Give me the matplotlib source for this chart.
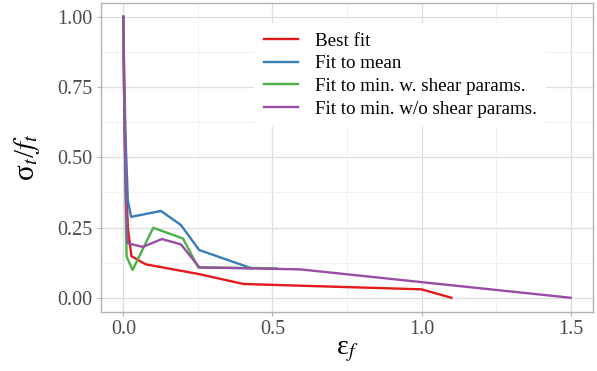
import matplotlib
matplotlib.use('Agg')
import matplotlib.pyplot as plt
from matplotlib.ticker import MultipleLocator, FormatStrFormatter

# ---- data ----
labels = ['Best fit', 'Fit to mean', 'Fit to min. w. shear params.', 'Fit to min. w/o shear params.']
colors = ['#E41A1C', '#377EB8', '#4DAF4A', '#984EA3']

best_x = [0, 0.002, 0.008, 0.015, 0.027, 0.075, 0.25, 0.403, 1.0, 1.1]
best_y = [1.0, 0.75, 0.45, 0.25, 0.148, 0.119, 0.085, 0.049, 0.03, 0.0]

mean_x = [0, 0.003, 0.008, 0.015, 0.026, 0.126, 0.193, 0.254, 0.43]
mean_y = [1.0, 0.78, 0.55, 0.347, 0.288, 0.309, 0.259, 0.17, 0.105]

minw_x = [0, 0.004, 0.009, 0.011, 0.031, 0.1, 0.2, 0.251, 0.513]
minw_y = [1.0, 0.6, 0.229, 0.146, 0.099, 0.249, 0.211, 0.108, 0.105]

mino_x = [0, 0.004, 0.01, 0.015, 0.065, 0.129, 0.193, 0.255, 0.593, 1.5]
mino_y = [1.0, 0.6, 0.3, 0.194, 0.181, 0.209, 0.19, 0.108, 0.101, 0.0]

series = [(best_x, best_y), (mean_x, mean_y), (minw_x, minw_y), (mino_x, mino_y)]

plt.rcParams['font.family'] = 'Liberation Serif'
plt.rcParams['mathtext.fontset'] = 'stix'

fig = plt.figure(figsize=(5.97, 3.71), dpi=100)
ax = fig.add_axes([101/597, 1 - 311.8/371, 492/597, 309/371])

for (xs, ys), lab, col in zip(series, labels, colors):
    ax.plot(xs, ys, color=col, lw=1.7, label=lab, solid_joinstyle='round')

ax.set_xlim(-0.075, 1.575)
ax.set_ylim(-0.05, 1.05)
ax.xaxis.set_major_locator(MultipleLocator(0.5))
ax.xaxis.set_minor_locator(MultipleLocator(0.25))
ax.yaxis.set_major_locator(MultipleLocator(0.25))
ax.yaxis.set_minor_locator(MultipleLocator(0.125))
ax.xaxis.set_major_formatter(FormatStrFormatter('%.1f'))
ax.yaxis.set_major_formatter(FormatStrFormatter('%.2f'))

ax.grid(True, which='major', color='#dedede', lw=0.9)
ax.grid(True, which='minor', color='#efefef', lw=0.6)
ax.set_axisbelow(True)
for s in ax.spines.values():
    s.set_color('#b3b3b3')
    s.set_linewidth(1.0)
ax.tick_params(which='major', length=3, color='#b3b3b3', labelsize=14.5, labelcolor='#4d4d4d', pad=3)
ax.tick_params(which='minor', length=0)

ax.set_xlabel(r'ε$_f$', fontsize=20, labelpad=0)
ax.set_ylabel(r'σ$_t$/$f_t$', fontsize=21, labelpad=11)

leg = ax.legend(loc='upper left', bbox_to_anchor=(254/597, 1 - 23/371), bbox_transform=fig.transFigure,
                frameon=True, fontsize=13.7, handlelength=1.8, handletextpad=0.9, labelspacing=0.28,
                borderpad=0.5, borderaxespad=0)
leg.get_frame().set_facecolor('white')
leg.get_frame().set_edgecolor('none')
leg.get_frame().set_alpha(1)
leg.get_frame().set_boxstyle('square', pad=0)

plt.savefig('out.png', dpi=100)
